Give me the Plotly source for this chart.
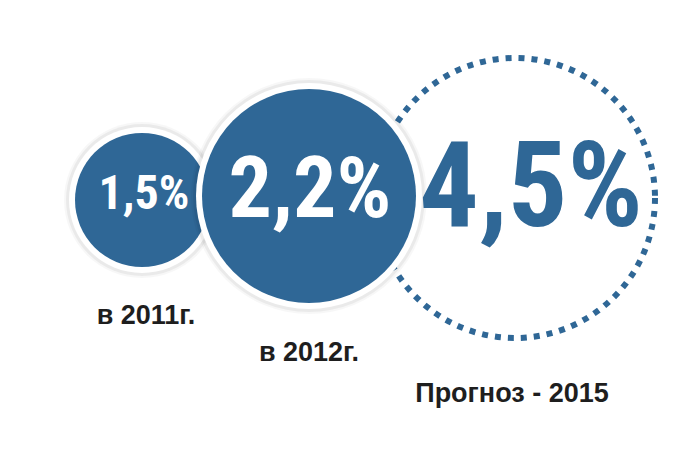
import plotly.graph_objects as go

# ---- data ----
values = [1.5, 2.2, 4.5]
labels = ["в 2011г.", "в 2012г.", "Прогноз - 2015"]
value_text = [f"{v:.1f}".replace(".", ",") + "%" for v in values]

# ---- layout constants (pixel positions / styles) ----
W, H = 700, 452
OFF = 8  # page body margin compensation
BLUE = "#2f6796"
CX = [142, 309, 515]
CY = [200, 196, 198]
R = [67, 107, 140]
VAL_X = [144, 310, 531]
VAL_Y = [197, 195, 196]
VAL_SIZE = [48, 86, 118]
VAL_COLOR = ["white", "white", BLUE]
LAB_X = [146, 309, 512]
LAB_Y = [317, 354, 395]
NUM_FONT = "Roboto Condensed, Liberation Sans Narrow, Roboto, sans-serif"
LAB_FONT = "Liberation Sans, Arial, sans-serif"

fig = go.Figure()

shapes = []


def circ(cx, cy, r, fill, line_color=None, line_width=0, dash=None, layer="below"):
    d = dict(type="circle", xref="x", yref="y",
             x0=cx - r, x1=cx + r, y0=cy - r, y1=cy + r,
             fillcolor=fill, layer=layer,
             line=dict(width=line_width, color=line_color or "rgba(0,0,0,0)"))
    if dash:
        d["line"]["dash"] = dash
    return d


# dotted forecast circle (drawn first, behind the others)
shapes.append(circ(CX[2], CY[2], R[2], "rgba(0,0,0,0)", BLUE, 6, "6px,7px"))

# filled circles with white ring and soft shadow
for i in (0, 1):
    shapes.append(circ(CX[i], CY[i], R[i] + 11, "rgba(0,0,0,0.03)"))
    shapes.append(circ(CX[i], CY[i], R[i] + 9, "rgba(0,0,0,0.05)"))
    shapes.append(circ(CX[i], CY[i], R[i] + 6, "white"))
    shapes.append(circ(CX[i], CY[i], R[i], BLUE))

fig.update_layout(shapes=shapes)

# value labels
for i in range(3):
    fig.add_trace(go.Scatter(
        x=[VAL_X[i]], y=[VAL_Y[i]], mode="text", text=[value_text[i]],
        textposition="middle center",
        textfont=dict(family=NUM_FONT, size=VAL_SIZE[i], color=VAL_COLOR[i], weight="bold"),
        hoverinfo="skip", showlegend=False,
    ))

# year labels
fig.add_trace(go.Scatter(
    x=LAB_X, y=LAB_Y, mode="text", text=labels,
    textposition="middle center",
    textfont=dict(family=LAB_FONT, size=27, color="#1e1e1e", weight="bold"),
    hoverinfo="skip", showlegend=False,
))

fig.update_layout(
    width=W, height=H, autosize=False,
    margin=dict(l=0, r=0, t=0, b=0),
    paper_bgcolor="white", plot_bgcolor="white",
    xaxis=dict(range=[OFF, W + OFF], visible=False, fixedrange=True),
    yaxis=dict(range=[H + OFF, OFF], visible=False, fixedrange=True),
    showlegend=False,
)

fig.write_html("out.html", config={"displayModeBar": False})
